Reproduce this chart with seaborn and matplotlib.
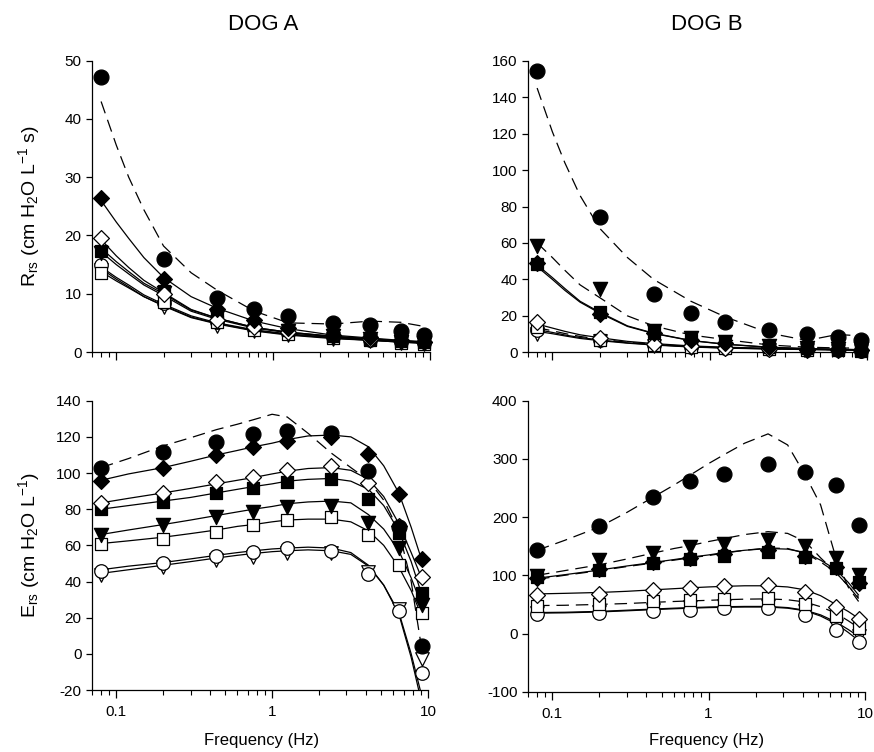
import matplotlib
matplotlib.use("Agg")
import matplotlib.pyplot as plt
import seaborn as sns
from matplotlib.ticker import LogLocator, NullFormatter, FixedLocator, FixedFormatter

sns.set_theme(style="ticks")
plt.rcParams["font.family"] = ["Liberation Sans", "DejaVu Sans"]
plt.rcParams["mathtext.fontset"] = "custom"
plt.rcParams["mathtext.rm"] = "Liberation Sans"
plt.rcParams["mathtext.it"] = "Liberation Sans:italic"
plt.rcParams["mathtext.bf"] = "Liberation Sans:bold"
for key in ["text.color", "axes.labelcolor", "xtick.color", "ytick.color", "axes.edgecolor"]:
    plt.rcParams[key] = "black"

# ---------------- data ----------------
freq = [0.08, 0.2, 0.44, 0.76, 1.25, 2.4, 4.15, 6.5, 9.1]          # measured frequencies (Hz)
fit_r = [0.08, 0.1, 0.12, 0.15, 0.2, 0.3, 0.44, 0.76, 1.25, 2.4, 4.15, 6.5, 9.1]  # fit frequencies (Rrs)
fit_e = [0.08, 0.12, 0.2, 0.3, 0.44, 0.6, 0.76, 1.0, 1.25, 1.7, 2.4, 3.2,
         4.15, 5.2, 6.5, 7.8, 9.1]                                   # fit frequencies (Ers)

# Dog A, Rrs points
ra_fc = [47.2, 15.9, 9.3, 7.4, 6.2, 5.0, 4.6, 3.6, 3.0]
ra_fd = [26.4, 12.5, 7.3, 5.5, 4.2, 3.0, 2.5, 2.0, 1.8]
ra_od = [19.5, 10.0, 5.5, 4.3, 3.5, 2.7, 2.3, 1.9, 1.7]
ra_fs = [17.4, 10.4, 6.3, 4.7, 3.7, 2.8, 2.3, 1.9, 1.7]
ra_ft = [17.0, 10.2, 6.0, 4.5, 3.6, 2.7, 2.2, 1.8, 1.6]
ra_oc = [15.0, 8.4, 5.2, 4.0, 3.2, 2.5, 2.1, 1.7, 1.5]
ra_os = [13.6, 8.5, 5.1, 3.8, 3.1, 2.4, 2.0, 1.6, 1.4]
ra_ot = [14.0, 7.7, 4.5, 3.6, 2.9, 2.3, 1.9, 1.5, 1.3]
# Dog A, Rrs fits
raf_fc = [43.0, 35.5, 30.0, 24.4, 18.2, 13.6, 10.6, 7.0, 5.0, 4.8, 5.3, 5.1, 4.4]
raf_fd = [26.0, 22.3, 19.5, 16.2, 12.8, 9.5, 7.5, 5.3, 4.0, 2.9, 2.4, 2.0, 1.8]
raf_od = [19.3, 16.5, 14.5, 12.3, 10.2, 7.3, 5.8, 4.2, 3.4, 2.7, 2.3, 1.9, 1.7]
raf_fs = [17.8, 15.5, 13.8, 11.8, 10.0, 7.2, 5.8, 4.2, 3.4, 2.7, 2.2, 1.9, 1.7]
raf_ft = [17.2, 15.0, 13.4, 11.5, 9.7, 7.0, 5.6, 4.1, 3.3, 2.6, 2.2, 1.8, 1.6]
raf_oc = [14.6, 12.8, 11.5, 9.8, 8.2, 6.2, 5.0, 3.8, 3.1, 2.5, 2.1, 1.8, 1.6]
raf_os = [13.8, 12.2, 11.0, 9.5, 8.0, 6.0, 4.9, 3.7, 3.0, 2.4, 2.0, 1.7, 1.5]
raf_ot = [14.3, 12.5, 11.2, 9.5, 7.9, 5.9, 4.8, 3.6, 2.9, 2.3, 2.0, 1.7, 1.5]

# Dog B, Rrs points
rb_fc = [154.5, 74.1, 32.0, 21.7, 16.5, 12.0, 10.2, 8.2, 6.5]
rb_ft = [58.5, 34.6, 11.9, 7.7, 5.8, 3.2, 2.5, 2.0, 1.8]
rb_fd = [49.2, 21.0, 10.4, 6.8, 5.0, 2.8, 2.0, 1.7, 1.3]
rb_fs = [48.5, 22.3, 11.0, 7.0, 5.2, 3.0, 2.2, 1.8, 1.5]
rb_od = [16.5, 7.7, 4.5, 3.3, 2.5, 2.0, 1.5, 1.2, 1.0]
rb_os = [14.0, 7.0, 4.0, 3.0, 2.3, 1.8, 1.3, 1.1, 0.9]
rb_oc = [12.0, 6.5, 3.8, 2.8, 2.2, 1.7, 1.2, 1.0, 0.8]
rb_ot = [10.0, 6.0, 3.3, 2.3, 2.0, 1.5, 1.1, 0.9, 0.7]
# Dog B, Rrs fits
rbf_fc = [145, 121, 104, 86, 68, 52, 40, 28, 19.5, 10.5, 6.5, 9.8, 9.0]
rbf_ft = [60, 52, 45, 37, 30, 20, 14.5, 9.5, 7.0, 4.0, 2.8, 2.4, 2.3]
rbf_fd = [48, 41, 35, 28, 22, 14.5, 10.5, 6.5, 4.5, 2.8, 2.0, 1.7, 1.5]
rbf_fs = [47, 40, 34, 27.5, 21.5, 14.2, 10.3, 6.4, 4.4, 2.7, 2.0, 1.6, 1.4]
rbf_od = [15.5, 13.3, 11.5, 9.6, 8.0, 6.0, 4.8, 3.5, 2.8, 2.2, 1.8, 1.5, 1.4]
rbf_os = [13.5, 11.8, 10.3, 8.7, 7.2, 5.5, 4.4, 3.2, 2.6, 2.0, 1.7, 1.4, 1.3]
rbf_oc = [12.5, 10.9, 9.5, 8.1, 6.8, 5.2, 4.2, 3.0, 2.4, 1.9, 1.6, 1.3, 1.2]
rbf_ot = [11.5, 10.2, 9.0, 7.6, 6.4, 5.0, 4.0, 2.9, 2.3, 1.8, 1.5, 1.3, 1.2]

# Dog A, Ers points
ea_fc = [103.0, 111.4, 117.0, 121.4, 123.4, 122.3, 101.3, 70.0, 4.3]
ea_fd = [95.8, 103.0, 109.8, 114.6, 117.7, 120.0, 110.5, 88.4, 52.3]
ea_od = [83.5, 88.8, 95.2, 98.0, 101.7, 103.9, 94.6, 70.5, 42.7]
ea_fs = [80.0, 83.8, 88.8, 91.5, 95.2, 96.7, 85.5, 67.0, 33.5]
ea_ft = [65.7, 71.3, 75.9, 78.6, 81.4, 82.0, 72.2, 58.4, 27.0]
ea_os = [60.6, 63.3, 67.6, 71.3, 74.0, 75.5, 65.7, 49.1, 22.4]
ea_oc = [46.0, 50.4, 54.1, 56.3, 58.4, 56.9, 44.2, 23.5, -10.4]
ea_ot = [43.6, 47.8, 51.9, 53.7, 56.0, 55.6, 45.5, 25.0, -3.0]
# Dog A, Ers fits
eaf_fc = [103, 108, 115, 119.5, 124, 127, 129.5, 132.5, 131, 122, 111, 103, 96, 85, 68, 40, 3]
eaf_fd = [96, 99.5, 103, 106.5, 110, 112.5, 114.5, 116.5, 118.5, 120.5, 121, 120, 114.5, 104, 89, 70, 52]
eaf_od = [83.5, 86, 89, 91.5, 94, 96, 97.5, 99.5, 101, 102.5, 103, 101.5, 96.5, 87, 72, 56, 42]
eaf_fs = [80, 82, 84.5, 86.5, 89, 91, 92.5, 94, 95.5, 96.5, 97, 95.5, 91, 82, 68, 51, 33]
eaf_ft = [66, 68.5, 71.5, 74, 76.5, 78.5, 80, 81.5, 83, 84, 84.5, 83.5, 77, 69, 57, 42, 27]
eaf_os = [61, 62.5, 64.5, 66.5, 68.5, 70.5, 71.5, 73, 74, 74.5, 74.5, 73, 68, 60, 48, 35, 21]
eaf_oc = [46.5, 48.5, 50.5, 52.5, 54.5, 56, 57, 58, 58.5, 59, 58.5, 56, 49, 38, 22, -2, -27]
eaf_ot = [44.5, 46.5, 49, 51, 53, 54.5, 55.5, 56.5, 57, 57.5, 57, 55, 48.5, 38, 23, 0, -23]

# Dog B, Ers points
eb_fc = [143.4, 185.2, 234.0, 262.0, 273.5, 290.8, 278.0, 255.0, 186.0]
eb_ft = [98.0, 126.3, 137.7, 149.0, 153.7, 160.6, 151.0, 129.0, 100.5]
eb_fs = [97.6, 109.0, 120.5, 128.0, 133.0, 140.6, 132.0, 112.0, 88.0]
eb_fd = [95.0, 110.0, 122.0, 130.0, 136.0, 143.0, 134.0, 114.0, 86.0]
eb_od = [66.4, 68.7, 75.6, 79.0, 80.8, 83.0, 71.6, 45.8, 24.6]
eb_os = [48.1, 50.4, 55.0, 57.8, 60.1, 60.7, 51.5, 30.4, 9.2]
eb_oc = [33.2, 35.0, 39.0, 41.2, 43.5, 43.5, 31.5, 5.7, -14.3]
eb_ot = [36.0, 37.8, 41.2, 44.7, 47.0, 47.0, 39.0, 13.0, -4.0]
# Dog B, Ers fits
ebf_fc = [143, 160, 183, 208, 234, 255, 272, 292, 307, 327, 343, 324, 272, 221, 131, 80, 55]
ebf_ft = [100, 108, 118, 128, 138, 146, 151, 158, 163, 170, 175, 172, 158, 130, 105, 82, 62]
ebf_fs = [93, 100, 108, 115, 121, 126, 130, 134, 138, 143, 147, 146, 138, 123, 105, 82, 60]
ebf_fd = [95, 101, 109, 116, 122, 127, 131, 135, 139, 143, 146, 145, 139, 126, 110, 88, 66]
ebf_od = [68, 69, 70.5, 72.5, 75, 77, 78.5, 80, 81, 82, 82, 80, 75, 65, 50, 38, 26]
ebf_os = [48, 48.5, 50, 51.5, 53.5, 55, 56, 57, 58, 59, 59.5, 58, 54, 46, 35, 22, 10]
ebf_oc = [35, 35.5, 37, 39, 41, 42.5, 43.5, 44.5, 45, 45.5, 45.5, 43.5, 39, 30, 17, 2, -12]
ebf_ot = [36, 36.5, 38, 40, 42, 43.5, 44.5, 45.5, 46, 46.5, 46.5, 44.5, 40, 32, 20, 7, -5]

title_a = "DOG A"
title_b = "DOG B"
xlabel = "Frequency (Hz)"
ylabel_r = r"R$_{\rm rs}$ (cm H$_2$O L$^{-1}$ s)"
ylabel_e = r"E$_{\rm rs}$ (cm H$_2$O L$^{-1}$)"

# ---------------- styles ----------------
order = ["ot", "oc", "os", "ft", "fs", "od", "fd", "fc"]
MSTYLE = {
    "fc": ("o", True, 115), "oc": ("o", False, 95),
    "fd": ("D", True, 65), "od": ("D", False, 65),
    "fs": ("s", True, 75), "os": ("s", False, 75),
    "ft": ("v", True, 105), "ot": ("v", False, 95),
}
DASH = (0, (10, 5.5))

fig = plt.figure(figsize=(8.74, 7.52), dpi=100)
W, H = 874.0, 752.0


def make_ax(l, r, t, b):
    return fig.add_axes([l / W, 1 - b / H, (r - l) / W, (b - t) / H])


ax_ra = make_ax(92, 430, 60.7, 352)
ax_rb = make_ax(528, 867, 60.7, 352.3)
ax_ea = make_ax(92, 428, 400.7, 690)
ax_eb = make_ax(528, 865, 400.7, 691.7)

panels = [
    (ax_ra, fit_r,
     dict(fc=ra_fc, fd=ra_fd, od=ra_od, fs=ra_fs, ft=ra_ft, oc=ra_oc, os=ra_os, ot=ra_ot),
     dict(fc=raf_fc, fd=raf_fd, od=raf_od, fs=raf_fs, ft=raf_ft, oc=raf_oc, os=raf_os, ot=raf_ot),
     {"fc"}, (0, 50), list(range(0, 51, 10)), False),
    (ax_rb, fit_r,
     dict(fc=rb_fc, fd=rb_fd, od=rb_od, fs=rb_fs, ft=rb_ft, oc=rb_oc, os=rb_os, ot=rb_ot),
     dict(fc=rbf_fc, fd=rbf_fd, od=rbf_od, fs=rbf_fs, ft=rbf_ft, oc=rbf_oc, os=rbf_os, ot=rbf_ot),
     {"fc", "ft", "os"}, (0, 160), list(range(0, 161, 20)), False),
    (ax_ea, fit_e,
     dict(fc=ea_fc, fd=ea_fd, od=ea_od, fs=ea_fs, ft=ea_ft, oc=ea_oc, os=ea_os, ot=ea_ot),
     dict(fc=eaf_fc, fd=eaf_fd, od=eaf_od, fs=eaf_fs, ft=eaf_ft, oc=eaf_oc, os=eaf_os, ot=eaf_ot),
     {"fc"}, (-20, 140), list(range(-20, 141, 20)), True),
    (ax_eb, fit_e,
     dict(fc=eb_fc, fd=eb_fd, od=eb_od, fs=eb_fs, ft=eb_ft, oc=eb_oc, os=eb_os, ot=eb_ot),
     dict(fc=ebf_fc, fd=ebf_fd, od=ebf_od, fs=ebf_fs, ft=ebf_ft, oc=ebf_oc, os=ebf_os, ot=ebf_ot),
     {"fc", "ft", "os", "fs"}, (-100, 400), list(range(-100, 401, 100)), True),
]

for ax, fx, pts, fits, dashed, ylim, yticks, xlab in panels:
    ax.set_xscale("log")
    ax.set_facecolor("white")
    for k in order:
        ls = DASH if k in dashed else "-"
        sns.lineplot(x=fx, y=fits[k], ax=ax, color="black", linewidth=0.9,
                     linestyle=ls, zorder=2, legend=False)
    for k in order:
        m, filled, s = MSTYLE[k]
        sns.scatterplot(x=freq, y=pts[k], ax=ax, marker=m, s=s,
                        color="black" if filled else "white",
                        edgecolor="black", linewidth=0.9, zorder=3,
                        clip_on=False, legend=False)
    ax.set_xlim(0.07, 10)
    ax.set_ylim(*ylim)
    ax.set_yticks(yticks)
    ax.set_yticklabels([str(v) for v in yticks], fontsize=11)
    ax.xaxis.set_major_locator(FixedLocator([0.1, 1, 10]))
    ax.xaxis.set_minor_locator(LogLocator(base=10, subs=[2, 3, 4, 5, 6, 7, 8, 9], numticks=20))
    ax.xaxis.set_minor_formatter(NullFormatter())
    if xlab:
        ax.xaxis.set_major_formatter(FixedFormatter(["0.1", "1", "10"]))
    else:
        ax.xaxis.set_major_formatter(NullFormatter())
    ax.tick_params(axis="x", which="major", length=6, width=0.9, labelsize=11, pad=5, color="black")
    ax.tick_params(axis="x", which="minor", length=3.5, width=0.8, color="black")
    ax.tick_params(axis="y", which="major", length=4.5, width=0.9, pad=3, color="black")
    ax.set_xlabel("")
    ax.set_ylabel("")
    for sp in ["top", "right"]:
        ax.spines[sp].set_visible(False)
    for sp in ["left", "bottom"]:
        ax.spines[sp].set_linewidth(0.9)
        ax.spines[sp].set_color("black")
    ax.grid(False)

fig.text(263 / W, 1 - 25 / H, title_a, ha="center", va="center", fontsize=16)
fig.text(707 / W, 1 - 25 / H, title_b, ha="center", va="center", fontsize=16)
fig.text(262 / W, 1 - 741 / H, xlabel, ha="center", va="center", fontsize=12)
fig.text(707 / W, 1 - 741 / H, xlabel, ha="center", va="center", fontsize=12)
fig.text(29 / W, 1 - 206 / H, ylabel_r, ha="center", va="center", rotation=90, fontsize=14)
fig.text(29 / W, 1 - 545 / H, ylabel_e, ha="center", va="center", rotation=90, fontsize=14)

fig.savefig("out.png", dpi=100, facecolor="white")
